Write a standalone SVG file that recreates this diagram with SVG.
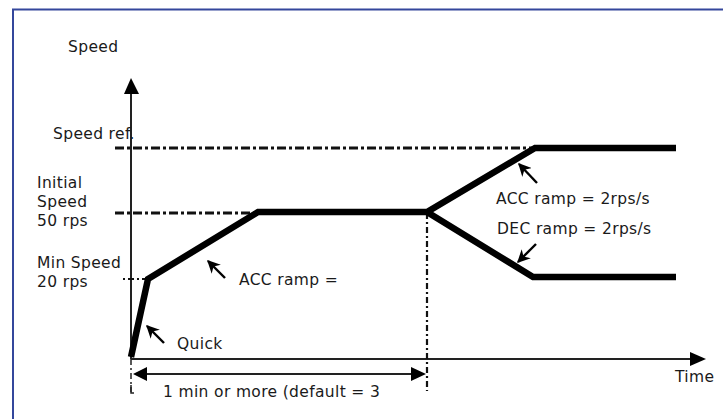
<svg xmlns="http://www.w3.org/2000/svg" width="723" height="419" viewBox="0 0 723 419">
<defs>
<style>
text{font-family:"DejaVu Sans","Verdana",sans-serif;font-size:15.5px;letter-spacing:0.35px;fill:#1a1a1a}
.thick{fill:none;stroke:#000;stroke-width:6.5;stroke-linejoin:miter;stroke-linecap:butt}
.axis{fill:none;stroke:#222;stroke-width:2}
.dd{fill:none;stroke:#111;stroke-width:3;stroke-dasharray:9 3 3 3}
.vd{fill:none;stroke:#111;stroke-width:2.2;stroke-dasharray:6 3 2 3}
.ptr{fill:none;stroke:#000;stroke-width:2.4}
</style>
<marker id="ph" viewBox="0 0 10 10" refX="9" refY="5" markerWidth="13" markerHeight="13" markerUnits="userSpaceOnUse" orient="auto">
<path d="M0,0 L10,5 L0,10 L3,5 Z" fill="#000"/>
</marker>
</defs>
<rect x="0" y="0" width="723" height="419" fill="#fff"/>
<g id="frame">
<path d="M13,419 V9.5 H723" fill="none" stroke="#34479c" stroke-width="2"/>
</g>
<g id="axes">
<line class="axis" x1="131" y1="93" x2="131" y2="359"/>
<path d="M131,78 L124,94 L139,94 Z" fill="#000"/>
<line class="axis" x1="131" y1="359" x2="691" y2="359"/>
<path d="M706,359 L690,352 L690,366 Z" fill="#000"/>
<line x1="131" y1="359" x2="131" y2="392" stroke="#222" stroke-width="1.5" stroke-dasharray="6 3 2 3"/>
<path d="M131,385 V393 H134" fill="none" stroke="#222" stroke-width="1.5"/>
</g>
<g id="reference-lines">
<line class="dd" x1="115" y1="148" x2="532" y2="148"/>
<line class="dd" x1="115" y1="213" x2="258" y2="213"/>
<line x1="123" y1="279" x2="148" y2="279" stroke="#111" stroke-width="2" stroke-dasharray="2 3 6 3"/>
<line class="vd" x1="427" y1="213" x2="427" y2="391"/>
</g>
<g id="speed-profile">
<path class="thick" d="M131,357 L148,279 L258,212 L427,212 L535,148 L676,148"/>
<path class="thick" d="M427,212 L533,277 L676,277"/>
</g>
<g id="connectors">
<line x1="146" y1="374" x2="412" y2="374" stroke="#222" stroke-width="1.8"/>
<path d="M133,374 L147,367 L147,381 Z" fill="#000"/>
<path d="M426,374 L411,367 L411,381 Z" fill="#000"/>
<line class="ptr" x1="164" y1="343" x2="147" y2="326" marker-end="url(#ph)"/>
<line class="ptr" x1="225" y1="278" x2="208" y2="261" marker-end="url(#ph)"/>
<line class="ptr" x1="537" y1="183" x2="519" y2="164" marker-end="url(#ph)"/>
<line class="ptr" x1="536" y1="244" x2="518" y2="262" marker-end="url(#ph)"/>
</g>
<g id="labels">
<text x="68" y="52">Speed</text>
<text x="53" y="139">Speed ref.</text>
<text x="37" y="188">Initial</text>
<text x="37" y="207">Speed</text>
<text x="37" y="226">50 rps</text>
<text x="37" y="268">Min Speed</text>
<text x="37" y="287">20 rps</text>
<text x="177" y="349">Quick</text>
<text x="239" y="285">ACC ramp =</text>
<text x="496" y="204">ACC ramp = 2rps/s</text>
<text x="497" y="234">DEC ramp = 2rps/s</text>
<text x="675" y="382">Time</text>
<text x="163" y="397">1 min or more (default = 3</text>
</g>
</svg>
